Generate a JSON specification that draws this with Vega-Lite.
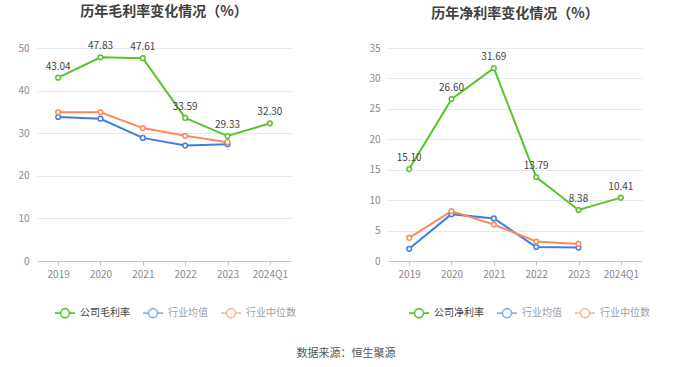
{
  "$schema": "https://vega.github.io/schema/vega-lite/v6.json",
  "background": "white",
  "padding": {"left": 17, "top": 5, "right": 5, "bottom": 8},
  "title": {"text": "数据来源：恒生聚源", "orient": "bottom", "anchor": "middle", "fontSize": 11, "fontWeight": "normal", "color": "#555", "font": "Noto Sans CJK SC", "offset": 27, "dx": 12},
  "datasets": {
    "gross": [
      {"year": "2019", "series": "公司毛利率", "value": 43.04},
      {"year": "2020", "series": "公司毛利率", "value": 47.83},
      {"year": "2021", "series": "公司毛利率", "value": 47.61},
      {"year": "2022", "series": "公司毛利率", "value": 33.59},
      {"year": "2023", "series": "公司毛利率", "value": 29.33},
      {"year": "2024Q1", "series": "公司毛利率", "value": 32.30},
      {"year": "2019", "series": "行业均值", "value": 33.8},
      {"year": "2020", "series": "行业均值", "value": 33.4},
      {"year": "2021", "series": "行业均值", "value": 28.9},
      {"year": "2022", "series": "行业均值", "value": 27.1},
      {"year": "2023", "series": "行业均值", "value": 27.4},
      {"year": "2019", "series": "行业中位数", "value": 34.9},
      {"year": "2020", "series": "行业中位数", "value": 34.9},
      {"year": "2021", "series": "行业中位数", "value": 31.2},
      {"year": "2022", "series": "行业中位数", "value": 29.4},
      {"year": "2023", "series": "行业中位数", "value": 27.9}
    ],
    "net": [
      {"year": "2019", "series": "公司净利率", "value": 15.10},
      {"year": "2020", "series": "公司净利率", "value": 26.60},
      {"year": "2021", "series": "公司净利率", "value": 31.69},
      {"year": "2022", "series": "公司净利率", "value": 13.79},
      {"year": "2023", "series": "公司净利率", "value": 8.38},
      {"year": "2024Q1", "series": "公司净利率", "value": 10.41},
      {"year": "2019", "series": "行业均值", "value": 2.0},
      {"year": "2020", "series": "行业均值", "value": 7.7},
      {"year": "2021", "series": "行业均值", "value": 7.0},
      {"year": "2022", "series": "行业均值", "value": 2.3},
      {"year": "2023", "series": "行业均值", "value": 2.2},
      {"year": "2019", "series": "行业中位数", "value": 3.8},
      {"year": "2020", "series": "行业中位数", "value": 8.2},
      {"year": "2021", "series": "行业中位数", "value": 6.0},
      {"year": "2022", "series": "行业中位数", "value": 3.2},
      {"year": "2023", "series": "行业中位数", "value": 2.8}
    ]
  },
  "hconcat": [
    {
      "width": 254,
      "height": 213,
      "data": {"name": "gross"},
      "title": {"text": "历年毛利率变化情况（%）"},
      "encoding": {
        "x": {"field": "year", "type": "nominal", "sort": null, "scale": {"type": "point", "padding": 0.5}, "axis": {"title": null}},
        "y": {"field": "value", "type": "quantitative", "scale": {"domain": [0, 50], "nice": false}, "axis": {"title": null, "values": [0, 10, 20, 30, 40, 50]}},
        "color": {
          "field": "series", "type": "nominal",
          "scale": {"domain": ["公司毛利率", "行业均值", "行业中位数"], "range": ["#56c42a", "#3f7ce8", "#fa8a5c"]},
          "legend": {"orient": "none", "legendX": 17, "legendY": 254, "direction": "horizontal", "title": null,
            "encode": {
              "labels": {"update": {"fill": {"signal": "indexof(datum.label, '行业') >= 0 ? '#a0a0a0' : '#444'"}}},
              "symbols": {"update": {"opacity": {"signal": "indexof(datum.label, '行业') >= 0 ? 0.6 : 1"}}}
            }}
        }
      },
      "layer": [
        {"mark": {"type": "line", "strokeWidth": 2}},
        {"mark": {"type": "point", "filled": false, "fill": "white", "strokeWidth": 1.5, "size": 22, "opacity": 1}},
        {
          "transform": [{"filter": "datum.series === '公司毛利率'"}],
          "mark": {"type": "text", "dy": -11, "fontSize": 10, "color": "#444", "font": "Noto Sans CJK SC"},
          "encoding": {"text": {"field": "value", "type": "quantitative", "format": ".2f"}, "color": {"value": "#444"}}
        }
      ]
    },
    {
      "width": 254,
      "height": 213,
      "data": {"name": "net"},
      "title": {"text": "历年净利率变化情况（%）"},
      "encoding": {
        "x": {"field": "year", "type": "nominal", "sort": null, "scale": {"type": "point", "padding": 0.5}, "axis": {"title": null}},
        "y": {"field": "value", "type": "quantitative", "scale": {"domain": [0, 35], "nice": false}, "axis": {"title": null, "values": [0, 5, 10, 15, 20, 25, 30, 35]}},
        "color": {
          "field": "series", "type": "nominal",
          "scale": {"domain": ["公司净利率", "行业均值", "行业中位数"], "range": ["#56c42a", "#3f7ce8", "#fa8a5c"]},
          "legend": {"orient": "none", "legendX": 20, "legendY": 254, "direction": "horizontal", "title": null,
            "encode": {
              "labels": {"update": {"fill": {"signal": "indexof(datum.label, '行业') >= 0 ? '#a0a0a0' : '#444'"}}},
              "symbols": {"update": {"opacity": {"signal": "indexof(datum.label, '行业') >= 0 ? 0.6 : 1"}}}
            }}
        }
      },
      "layer": [
        {"mark": {"type": "line", "strokeWidth": 2}},
        {"mark": {"type": "point", "filled": false, "fill": "white", "strokeWidth": 1.5, "size": 22, "opacity": 1}},
        {
          "transform": [{"filter": "datum.series === '公司净利率'"}],
          "mark": {"type": "text", "dy": -11, "fontSize": 10, "color": "#444", "font": "Noto Sans CJK SC"},
          "encoding": {"text": {"field": "value", "type": "quantitative", "format": ".2f"}, "color": {"value": "#444"}}
        }
      ]
    }
  ],
  "spacing": 72,
  "resolve": {"scale": {"color": "independent", "x": "independent", "y": "independent"}, "legend": {"color": "independent"}},
  "config": {
    "font": "Noto Sans CJK SC",
    "view": {"stroke": null},
    "title": {"fontSize": 14, "fontWeight": "bold", "color": "#404040", "anchor": "middle", "offset": 22, "font": "Noto Sans CJK SC"},
    "axis": {"labelFont": "Noto Sans CJK SC", "labelFontSize": 10, "labelColor": "#8a8a8a"},
    "axisY": {"domain": false, "ticks": false, "labelPadding": 8, "gridColor": "#e3e8f2", "gridWidth": 1},
    "axisX": {"grid": false, "domainColor": "#c4c4c4", "tickColor": "#c4c4c4", "tickSize": 4, "labelPadding": 4, "labelAngle": 0},
    "legend": {
      "labelFont": "Noto Sans CJK SC",
      "labelFontSize": 10,
      "labelColor": "#555",
      "symbolType": "M-1,0L-0.45,0M0.45,0A0.45,0.45 0 1,1 -0.45,0A0.45,0.45 0 1,1 0.45,0M0.45,0L1,0",
      "symbolSize": 400,
      "symbolStrokeWidth": 1.6,
      "symbolFillColor": "white",
      "labelOffset": 4,
      "columnPadding": 9
    }
  }
}
